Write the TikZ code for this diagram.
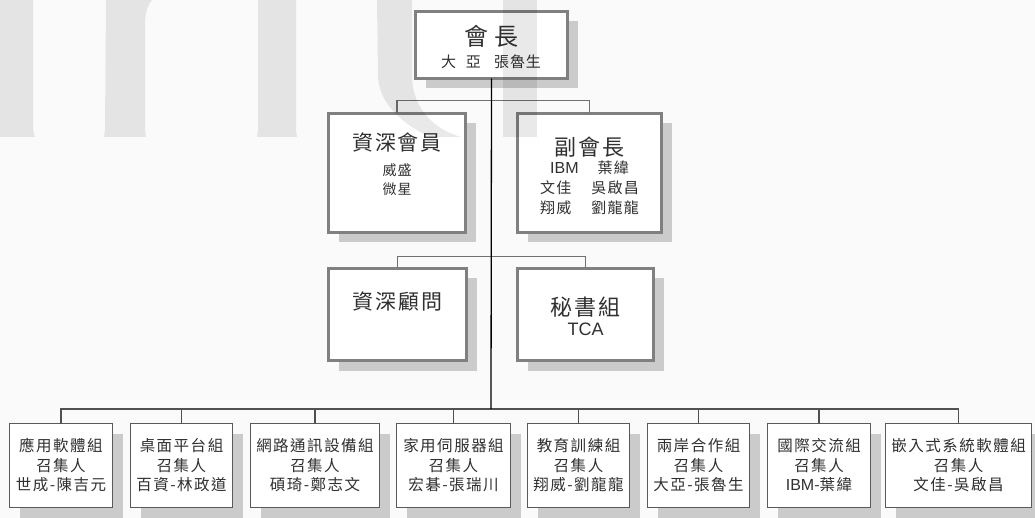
\documentclass[tikz,border=0pt]{standalone}
\usepackage{fontspec}
\setmainfont{Noto Sans CJK TC}
\newfontfamily\latf{Liberation Sans}
\usetikzlibrary{shadows}
\definecolor{bgc}{HTML}{FAFAFA}
\definecolor{boxline}{HTML}{808080}
\definecolor{gline}{HTML}{5A5A5A}
\definecolor{shd}{HTML}{CBCBCB}
\definecolor{txt}{HTML}{303030}
\definecolor{brc}{HTML}{707070}
\definecolor{busc}{HTML}{505050}
\makeatletter
\newcommand\trk[2]{\def\trk@k{\kern#1}\trk@a#2\relax}
\def\trk@a#1{\ifx#1\relax\else#1\expandafter\trk@b\fi}
\def\trk@b#1{\ifx#1\relax\else\trk@k#1\expandafter\trk@b\fi}
\makeatother
\newcommand\gtxt[3]{\trk{1.5pt}{#1}\\\trk{1.5pt}{#2}\\#3}
\begin{document}
\begin{tikzpicture}[x=1pt,y=-1pt,
  every node/.style={inner sep=0pt, outer sep=0pt, text=txt},
  shd/.style={drop shadow={shadow xshift=10pt, shadow yshift=-10pt, fill=shd, opacity=1}},
  pbox/.style={draw=boxline, line width=2.2pt, fill=white, shd},
  gbox/.style={draw=gline, line width=1.3pt, fill=white, shd, align=center,
    font=\fontsize{15.5}{19.5}\selectfont},
  trunk/.style={draw=black, line width=1.3pt},
  branch/.style={draw=brc, line width=1.2pt},
  bus/.style={draw=busc, line width=1.4pt}
]
\useasboundingbox (0,0) rectangle (1035,518);
\fill[bgc] (0,0) rectangle (1035,518);

% boxes
\node[pbox, minimum width=152pt, minimum height=67pt] (pres) at (491.5,45) {};
\node[pbox, minimum width=137pt, minimum height=119pt] (sen) at (397,173) {};
\node[pbox, minimum width=144pt, minimum height=119pt] (vp) at (589.5,173) {};
\node[pbox, minimum width=138pt, minimum height=92pt] (adv) at (397.5,314.5) {};
\node[pbox, minimum width=136pt, minimum height=92pt] (sec) at (585.5,314.5) {};

\node[gbox, minimum width=103pt, minimum height=84pt] (g1) at (61,465.5)
  {\gtxt{應用軟體組}{召集人}{\trk{1.5pt}{世成-陳吉元}}};
\node[gbox, minimum width=102pt, minimum height=84pt] (g2) at (181.5,465.5)
  {\gtxt{桌面平台組}{召集人}{\trk{1.5pt}{百資-林政道}}};
\node[gbox, minimum width=129pt, minimum height=84pt] (g3) at (315,465.5)
  {\gtxt{網路通訊設備組}{召集人}{\trk{1.5pt}{碩琦-鄭志文}}};
\node[gbox, minimum width=114pt, minimum height=84pt] (g4) at (453.5,465.5)
  {\gtxt{家用伺服器組}{召集人}{\trk{1.5pt}{宏碁-張瑞川}}};
\node[gbox, minimum width=102pt, minimum height=84pt] (g5) at (578.5,465.5)
  {\gtxt{教育訓練組}{召集人}{\trk{1.5pt}{翔威-劉龍龍}}};
\node[gbox, minimum width=102pt, minimum height=84pt] (g6) at (698.5,465.5)
  {\gtxt{兩岸合作組}{召集人}{\trk{1.5pt}{大亞-張魯生}}};
\node[gbox, minimum width=103pt, minimum height=84pt] (g7) at (819,465.5)
  {\gtxt{國際交流組}{召集人}{{\latf\fontsize{16}{19.5}\selectfont IBM}-\trk{1.5pt}{葉緯}}};
\node[gbox, minimum width=146pt, minimum height=84pt] (g8) at (958.5,465.5)
  {\gtxt{嵌入式系統軟體組}{召集人}{\trk{1.5pt}{文佳-吳啟昌}}};

% texts in upper boxes
\node[font=\fontsize{24}{26}\selectfont] (presT) at (491,36) {會\kern6pt長};
\node[font=\fontsize{15}{17}\selectfont] (presN) at (491,62) {大\kern10pt亞\kern13pt張\kern1pt魯\kern1pt生};
\node[font=\fontsize{21}{24}\selectfont] (senT) at (397,143) {\trk{2pt}{資深會員}};
\node[font=\fontsize{14}{19}\selectfont, align=center] (senN) at (397,179.5) {\trk{1pt}{威盛}\\\trk{1pt}{微星}};
\node[font=\fontsize{22}{24}\selectfont] (vpT) at (589.5,147) {\trk{2pt}{副會長}};
\node[font=\fontsize{15}{20}\selectfont, align=center] (vpN) at (589.5,188)
  {{\latf\fontsize{16}{20}\selectfont IBM}\kern19pt\trk{1.3pt}{葉緯}\\
   \trk{1.3pt}{文佳}\kern20pt\trk{1.3pt}{吳啟昌}\\
   \trk{1.3pt}{翔威}\kern20pt\trk{1.3pt}{劉龍龍}};
\node[font=\fontsize{21}{24}\selectfont] (advT) at (397.5,301) {\trk{2pt}{資深顧問}};
\node[font=\fontsize{22}{24}\selectfont] (secT) at (585.5,307) {\trk{2pt}{秘書組}};
\node[font=\latf\fontsize{18}{20}\selectfont] (secN) at (585.5,329) {TCA};

% connectors
\coordinate (bus) at (491,409);
\draw[branch] (sen.north) -- ++(0,-13) -| (vp.north);
\draw[branch] (adv.north) -- ++(0,-12) -| (sec.north);
\draw[bus] (g1.north) |- (bus) -| (g8.north);
\foreach \g in {g2,g3,g4,g5,g6,g7}{\draw[bus] (\g.north) -- (\g.north |- bus);}
\draw[trunk] (pres.south) -- (bus);

% faint watermark
\begin{scope}[fill=black, fill opacity=0.085]
\fill (0,0) -- (33,0) -- (33,130) -- (35,137) -- (0,137) -- cycle;
\fill (106,0) -- (152,0) .. controls (147,6) and (145,14) .. (145,25) -- (145,130) -- (146,137) -- (104,137) -- (105,130) -- cycle;
\fill (258,0) -- (296,0) -- (296,130) -- (297,137) -- (257,137) -- (258,130) -- cycle;
\fill (377,0) -- (412,0) -- (412,75) .. controls (412,105) and (430,128) .. (461,137) -- (430,137) .. controls (398,122) and (378,100) .. (378,75) -- cycle;
\fill (503,0) -- (537,0) -- (537,137) -- (503,137) -- cycle;
\end{scope}
\end{tikzpicture}
\end{document}
